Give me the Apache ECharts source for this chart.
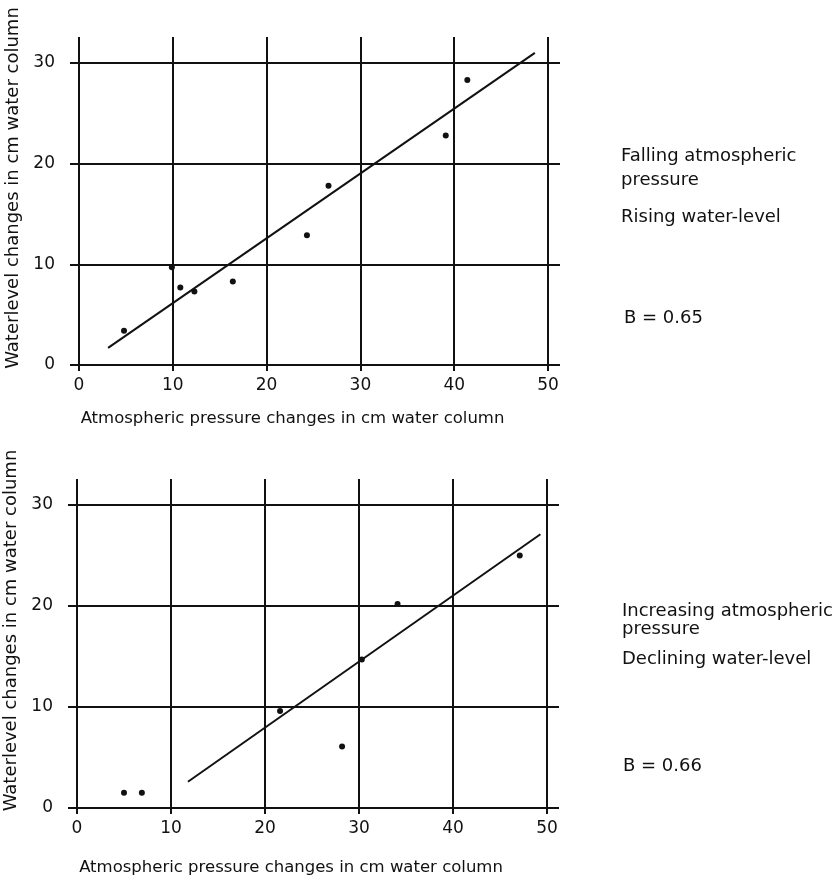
<!DOCTYPE html>
<html><head><meta charset="utf-8">
<script src="https://cdn.jsdelivr.net/npm/echarts/dist/echarts.min.js"></script>
<style>html,body{margin:0;padding:0;background:#fff}#c{width:834px;height:881px}</style>
</head><body><div id="c"></div>
<script>
// Tick labels
const xTickLabels = [0, 10, 20, 30, 40, 50];
const yTickLabels = [0, 10, 20, 30];

// Upper panel: falling atmospheric pressure / rising water-level
const fallingX = [4.8, 9.9, 10.8, 12.3, 16.4, 24.3, 26.6, 39.1, 41.4];
const fallingY = [3.4, 9.7, 7.7, 7.3, 8.3, 12.9, 17.8, 22.8, 28.3];
const fallingFitX = [3.1, 48.6];
const fallingFitY = [1.7, 31.0];

// Lower panel: increasing atmospheric pressure / declining water-level
const risingX = [5.0, 6.9, 21.6, 28.2, 30.3, 34.1, 47.1];
const risingY = [1.5, 1.5, 9.6, 6.1, 14.7, 20.2, 25.0];
const risingFitX = [11.8, 49.3];
const risingFitY = [2.6, 27.1];

const xTitle = 'Atmospheric pressure changes in cm water column';
const yTitle = 'Waterlevel changes in cm water column';
const upperNotes = ['Falling atmospheric', 'pressure', 'Rising water-level', 'B = 0.65'];
const lowerNotes = ['Increasing atmospheric', 'pressure', 'Declining water-level', 'B = 0.66'];

const FONT = 'DejaVu Sans';
const INK = '#111';
const zip = (a, b) => a.map((v, i) => [v, b[i]]);
const xMin = xTickLabels[0], xMax = xTickLabels[xTickLabels.length - 1], xInt = xTickLabels[1] - xTickLabels[0];
const yMin = yTickLabels[0], yMax = yTickLabels[yTickLabels.length - 1], yInt = yTickLabels[1] - yTickLabels[0];
const ls = { color: INK, width: 2 };
const hiddenLine = { show: true, onZero: false, lineStyle: { color: INK, width: 2, opacity: 0 } };

function xAxes(g, nameGap) {
  return [
    {
      gridIndex: g, type: 'value', position: 'bottom', min: xMin, max: xMax, interval: xInt,
      axisLine: { show: true, onZero: false, lineStyle: ls },
      axisTick: { show: true, length: 6, lineStyle: ls },
      splitLine: { show: true, lineStyle: ls },
      axisLabel: { color: INK, fontSize: 17, fontFamily: FONT, margin: 12 },
      name: xTitle, nameLocation: 'middle', nameGap: nameGap,
      nameTextStyle: { color: INK, fontSize: 16.5, fontFamily: FONT, padding: [0, 42, 0, 0] }
    },
    {
      gridIndex: g, type: 'value', position: 'top', min: xMin, max: xMax, interval: xInt,
      axisLine: hiddenLine, axisLabel: { show: false }, splitLine: { show: false },
      axisTick: { show: true, length: 26, lineStyle: ls }
    }
  ];
}
function yAxes(g) {
  return [
    {
      gridIndex: g, type: 'value', position: 'left', min: yMin, max: yMax, interval: yInt,
      axisLine: { show: true, onZero: false, lineStyle: ls },
      axisTick: { show: true, length: 9, lineStyle: ls },
      splitLine: { show: true, lineStyle: ls },
      axisLabel: { color: INK, fontSize: 17, fontFamily: FONT, margin: 24 },
      name: yTitle, nameLocation: 'middle', nameGap: 55, nameRotate: 90,
      nameTextStyle: { color: INK, fontSize: 18, fontFamily: FONT, padding: [0, 0, 0, 52] }
    },
    {
      gridIndex: g, type: 'value', position: 'right', min: yMin, max: yMax, interval: yInt,
      axisLine: hiddenLine, axisLabel: { show: false }, splitLine: { show: false },
      axisTick: { show: true, length: 12, lineStyle: ls }
    }
  ];
}

function notes(lines, lefts, tops) {
  return lines.map((t, i) => ({
    type: 'text', left: lefts[i], top: tops[i],
    style: { text: t, fill: INK, fontSize: 18, fontFamily: FONT }
  }));
}

const option = {
  animation: false,
  backgroundColor: '#fff',
  grid: [
    { left: 79, top: 63, width: 469, height: 302, outerBoundsMode: 'none' },
    { left: 77, top: 505, width: 470, height: 303, outerBoundsMode: 'none' }
  ],
  xAxis: [...xAxes(0, 45), ...xAxes(1, 51)],
  yAxis: [...yAxes(0), ...yAxes(1)],
  series: [
    { type: 'scatter', xAxisIndex: 0, yAxisIndex: 0, data: zip(fallingX, fallingY),
      symbolSize: 6, itemStyle: { color: INK, opacity: 1 } },
    { type: 'line', xAxisIndex: 0, yAxisIndex: 0, data: zip(fallingFitX, fallingFitY), clip: false,
      showSymbol: false, symbol: 'none', lineStyle: { color: INK, width: 2 } },
    { type: 'scatter', xAxisIndex: 2, yAxisIndex: 2, data: zip(risingX, risingY),
      symbolSize: 6, itemStyle: { color: INK, opacity: 1 } },
    { type: 'line', xAxisIndex: 2, yAxisIndex: 2, data: zip(risingFitX, risingFitY), clip: false,
      showSymbol: false, symbol: 'none', lineStyle: { color: INK, width: 2 } }
  ],
  graphic: [
    ...notes(upperNotes, [621, 621, 621, 624], [147, 171, 208, 309]),
    ...notes(lowerNotes, [622, 622, 622, 623], [602, 620, 650, 757])
  ]
};

const chart = echarts.init(document.getElementById('c'), null, { renderer: 'canvas' });
chart.setOption(option);
</script>
</body></html>
